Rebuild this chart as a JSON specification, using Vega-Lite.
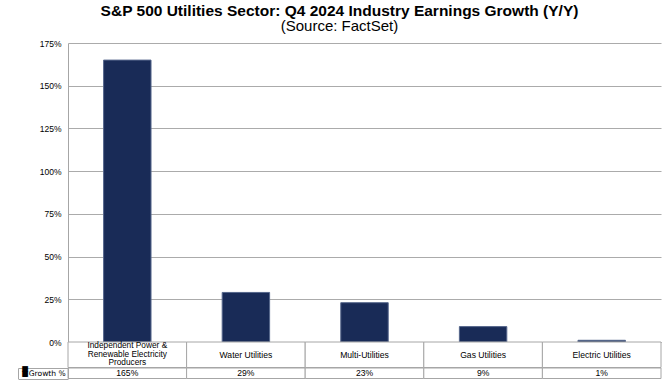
{
  "$schema": "https://vega.github.io/schema/vega-lite/v6.json",
  "padding": {"left": 17, "top": 3, "right": 12, "bottom": 5},
  "background": "white",
  "bounds": "flush",
  "config": {
    "view": {"stroke": null},
    "font": "Liberation Sans",
    "axis": {"labelFont": "Liberation Sans", "labelColor": "#000000"}
  },
  "datasets": {
    "growth": [
      {"category": "Independent Power & Renewable Electricity Producers", "label": "Independent Power &\nRenewable Electricity\nProducers", "series": "Growth %", "growth": 1.65},
      {"category": "Water Utilities", "label": "Water Utilities", "series": "Growth %", "growth": 0.29},
      {"category": "Multi-Utilities", "label": "Multi-Utilities", "series": "Growth %", "growth": 0.23},
      {"category": "Gas Utilities", "label": "Gas Utilities", "series": "Growth %", "growth": 0.09},
      {"category": "Electric Utilities", "label": "Electric Utilities", "series": "Growth %", "growth": 0.01}
    ]
  },
  "title": {
    "text": "S&P 500 Utilities  Sector: Q4 2024 Industry Earnings Growth (Y/Y)",
    "subtitle": "(Source: FactSet)",
    "fontSize": 15.5,
    "fontWeight": "bold",
    "subtitleFontSize": 15,
    "subtitlePadding": 0,
    "anchor": "middle",
    "frame": "bounds",
    "offset": 5,
    "color": "#000000",
    "subtitleColor": "#000000"
  },
  "spacing": 0,
  "resolve": {"scale": {"x": "independent", "y": "independent"}},
  "vconcat": [
    {
      "width": 593,
      "height": 299,
      "data": {"name": "growth"},
      "mark": {"type": "bar", "color": "#192b57", "stroke": "#56678c", "strokeWidth": 1},
      "encoding": {
        "x": {
          "field": "category", "type": "nominal", "sort": null,
          "scale": {"paddingInner": 0.6, "paddingOuter": 0.3},
          "axis": {"labels": false, "ticks": false, "title": null, "domainColor": "#a6a6a6"}
        },
        "y": {
          "field": "growth", "type": "quantitative",
          "scale": {"domain": [0, 1.75], "nice": false},
          "axis": {
            "values": [0, 0.25, 0.5, 0.75, 1, 1.25, 1.5, 1.75],
            "format": ".0%", "title": null, "ticks": false,
            "domainColor": "#a6a6a6", "gridColor": "#ababab", "grid": true,
            "labelFontSize": 8.5, "labelPadding": 7
          }
        }
      }
    },
    {
      "width": 593,
      "height": 25.5,
      "data": {"name": "growth"},
      "layer": [
        {
          "mark": {"type": "rect", "fill": "white", "stroke": "#a6a6a6", "strokeWidth": 1},
          "encoding": {
            "x": {"field": "category", "type": "nominal", "sort": null, "scale": {"paddingInner": 0, "paddingOuter": 0}, "axis": null}
          }
        },
        {
          "transform": [{"filter": "indexof(datum.label, '\\n') < 0"}],
          "mark": {"type": "text", "fontSize": 8.6, "baseline": "middle", "color": "#000000"},
          "encoding": {
            "x": {"field": "category", "type": "nominal", "sort": null, "axis": null},
            "text": {"field": "label"}
          }
        },
        {
          "transform": [{"filter": "indexof(datum.label, '\\n') >= 0"}],
          "mark": {"type": "text", "fontSize": 8.3, "lineHeight": 8.6, "lineBreak": "\n", "baseline": "middle", "dy": -8.6, "color": "#000000"},
          "encoding": {
            "x": {"field": "category", "type": "nominal", "sort": null, "axis": null},
            "text": {"field": "label"}
          }
        }
      ]
    },
    {
      "width": 593,
      "height": 10.5,
      "data": {"name": "growth"},
      "layer": [
        {
          "mark": {"type": "rect", "fill": "white", "stroke": "#a6a6a6", "strokeWidth": 1},
          "encoding": {
            "x": {"field": "category", "type": "nominal", "sort": null, "scale": {"paddingInner": 0, "paddingOuter": 0}, "axis": null},
            "y": {
              "field": "series", "type": "nominal",
              "scale": {"paddingInner": 0, "paddingOuter": 0},
              "axis": {
                "title": null, "orient": "left", "tickBand": "extent", "tickSize": 50,
                "tickColor": "#a6a6a6", "domainColor": "#a6a6a6",
                "labelAlign": "left", "labelPadding": -3, "labelFontSize": 7.6,
                "labelFont": "DejaVu Sans",
                "labelExpr": "'■' + datum.label"
              }
            }
          }
        },
        {
          "mark": {"type": "text", "fontSize": 8.6, "baseline": "middle", "color": "#000000"},
          "encoding": {
            "x": {"field": "category", "type": "nominal", "sort": null, "axis": null},
            "y": {
              "field": "series", "type": "nominal",
              "axis": {"title": null, "orient": "left", "offset": 50, "labels": false, "ticks": false, "domainColor": "#a6a6a6"}
            },
            "text": {"field": "growth", "type": "quantitative", "format": ".0%"}
          }
        }
      ],
      "resolve": {"axis": {"y": "independent"}}
    }
  ]
}
